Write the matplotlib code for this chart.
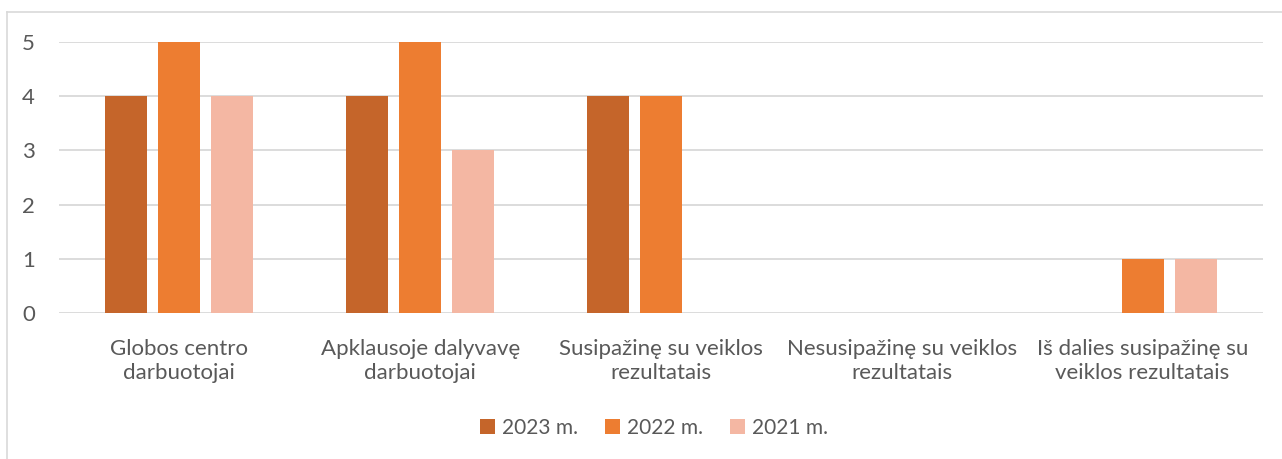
import matplotlib.pyplot as plt
import numpy as np
from matplotlib.lines import Line2D

plt.rcParams['font.family'] = ['Lato', 'DejaVu Sans']

categories = ["Globos centro\ndarbuotojai", "Apklausoje dalyvavę\ndarbuotojai",
              "Susipažinę su veiklos\nrezultatais", "Nesusipažinę su veiklos\nrezultatais",
              "Iš dalies susipažinę su\nveiklos rezultatais"]
series_names = ["2023 m.", "2022 m.", "2021 m."]
v2023 = [4, 4, 4, 0, 0]
v2022 = [5, 5, 4, 0, 1]
v2021 = [4, 3, 0, 0, 1]
colors = ["#C5652A", "#ED7D31", "#F4B7A3"]
yticks = [0, 1, 2, 3, 4, 5]

fig = plt.figure(figsize=(12.82, 4.59), dpi=100)
ax = fig.add_axes([59/1282, 146/459, 1204/1282, 271/459])

x = np.arange(len(categories))
w = 42/240.8
step = 53/240.8
for i, (vals, name) in enumerate(zip([v2023, v2022, v2021], series_names)):
    ax.bar(x + (i - 1)*step, vals, width=w, color=colors[i], label=name, linewidth=0, zorder=3)

ax.set_xlim(-0.5, len(categories) - 0.5)
ax.set_ylim(0, 5)
ax.set_yticks(yticks)
ax.set_xticks(x)
ax.set_xticklabels(categories, fontsize=16, color="#595959", linespacing=1.25)
ax.tick_params(axis='x', length=0, pad=19)
ax.tick_params(axis='y', length=0, pad=22, labelsize=16, labelcolor="#595959")
for lab in ax.get_yticklabels():
    lab.set_horizontalalignment('center')
ax.grid(axis='y', color="#D9D9D9", linewidth=1.3, zorder=0)
for s in ax.spines.values():
    s.set_visible(False)

leg = fig.legend(loc='center', bbox_to_anchor=(654/1282, 1 - 428/459), ncol=3, frameon=False,
                 fontsize=15, handlelength=0.7, handleheight=0.7, handletextpad=0.35,
                 columnspacing=1.3, labelcolor="#595959")

# chart border
fig.add_artist(Line2D([7/1282, 7/1282], [0, 1 - 12/459], color="#D9D9D9", linewidth=1.2, transform=fig.transFigure))
fig.add_artist(Line2D([7/1282, 1], [1 - 12/459, 1 - 12/459], color="#D9D9D9", linewidth=1.2, transform=fig.transFigure))

fig.savefig("out.png", dpi=100)
